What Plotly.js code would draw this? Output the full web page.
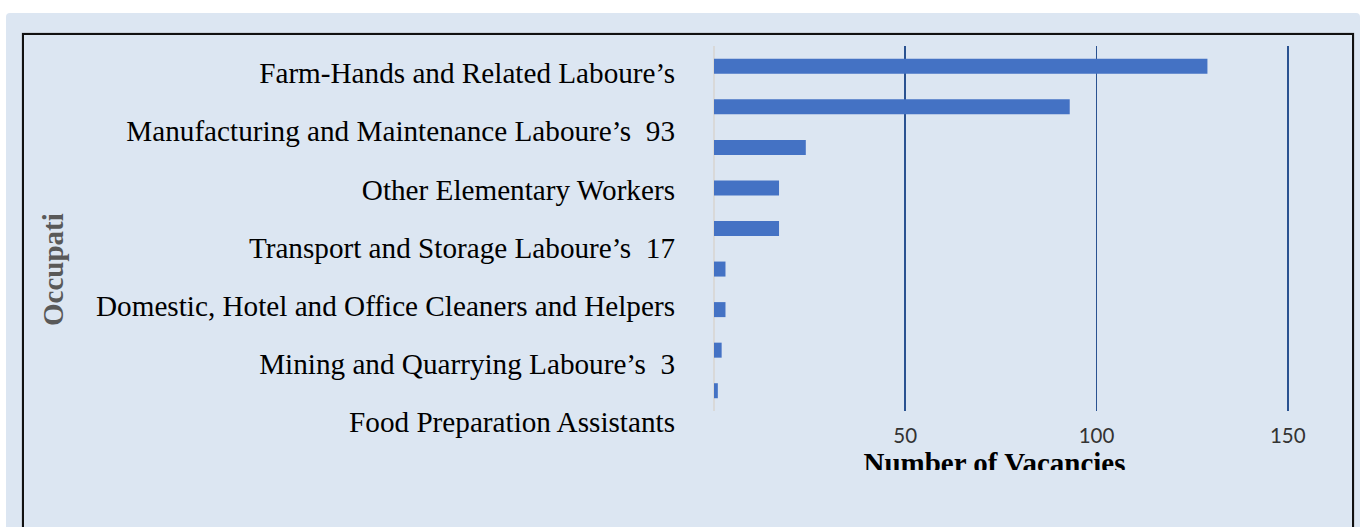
<!DOCTYPE html>
<html>
<head>
<meta charset="utf-8">
<script src="https://cdn.plot.ly/plotly-3.0.1.min.js"></script>
<style>
  html, body { margin: 0; padding: 0; width: 1360px; height: 527px; overflow: hidden; background: #ffffff; }
  #bg { position: absolute; left: 6px; top: 13px; width: 1354px; height: 520px; background: #dce6f2; border-radius: 4px; }
  #frame { position: absolute; left: 22px; top: 33px; width: 1332px; height: 600px; box-sizing: border-box; border: 2px solid #111; box-shadow: 0 0 1px #666; }
  #clip { position: absolute; left: 0; top: 0; width: 1360px; height: 470px; overflow: hidden; }
  #plot { width: 1360px; height: 527px; }
</style>
</head>
<body>
<div id="bg"></div>
<div id="frame"></div>
<div id="clip"><div id="plot"></div></div>
<script>
// Bar values, read top to bottom (number of vacancies)
const vacancies = [129, 93, 24, 17, 17, 3, 3, 2, 1];
// Category labels as they appear on the vertical axis
const tickLabels = [
  "Farm-Hands and Related Laboure\u2019s",
  "Manufacturing and Maintenance Laboure\u2019s \u00a093",
  "Other Elementary Workers",
  "Transport and Storage Laboure\u2019s \u00a017",
  "Domestic, Hotel and Office Cleaners and Helpers",
  "Mining and Quarrying Laboure\u2019s \u00a03",
  "Food Preparation Assistants"
];
const xTicks = [50, 100, 150];
const xTitle = "Number of Vacancies";
const yTitle = "Occupati";

const barSlots = vacancies.map((v, i) => i);
const labelSlots = tickLabels.map((t, i) => i);

const traces = [
  {
    type: "bar",
    orientation: "h",
    x: vacancies,
    y: barSlots,
    width: 0.37,
    marker: { color: "#4472c4" },
    hoverinfo: "x",
    xaxis: "x",
    yaxis: "y"
  },
  {
    type: "scatter",
    mode: "markers",
    x: labelSlots.map(() => null),
    y: labelSlots,
    marker: { opacity: 0 },
    hoverinfo: "skip",
    showlegend: false,
    xaxis: "x2",
    yaxis: "y2"
  }
];

const W = 1360, H = 527, L = 714, R = 34, T = 44, B = 76;
const plotW = W - L - R, plotH = H - T - B;
const barTop = 46, barBottom = 411;
const serif = "'Liberation Serif', 'Times New Roman', serif";

const layout = {
  width: W,
  height: H,
  paper_bgcolor: "rgba(0,0,0,0)",
  plot_bgcolor: "rgba(0,0,0,0)",
  margin: { l: L, r: R, t: T, b: B, pad: 0 },
  showlegend: false,
  xaxis: {
    range: [0, 160],
    tickvals: xTicks,
    ticktext: xTicks.map(String),
    showgrid: true,
    gridcolor: "#2a5291",
    gridwidth: 1.8,
    zeroline: true,
    zerolinecolor: "#d9d9d9",
    zerolinewidth: 2,
    showline: false,
    ticks: "",
    tickfont: { family: "Lato, 'Liberation Sans', sans-serif", size: 20.5, color: "#333333" },
    ticklabelstandoff: 10,
    fixedrange: true
  },
  yaxis: {
    domain: [(H - B - barBottom) / plotH, (H - B - barTop) / plotH],
    range: [vacancies.length - 0.5, -0.5],
    showticklabels: false,
    showgrid: false,
    zeroline: false,
    showline: false,
    ticks: "",
    fixedrange: true
  },
  xaxis2: {
    anchor: "y2",
    domain: [0, (994.5 - L) * 2 / plotW],
    range: [0, 1],
    showticklabels: false,
    showgrid: false,
    zeroline: false,
    showline: false,
    ticks: "",
    title: {
      text: xTitle,
      font: { family: serif, size: 29, color: "#000000", weight: "bold" },
      standoff: 1
    },
    fixedrange: true
  },
  yaxis2: {
    anchor: "x2",
    domain: [0, 1],
    range: [tickLabels.length - 0.5, -0.5],
    tickvals: labelSlots,
    ticktext: tickLabels,
    showgrid: false,
    zeroline: false,
    showline: false,
    ticks: "",
    ticklabelstandoff: 38,
    tickfont: { family: serif, size: 29.2, color: "#000000" },
    fixedrange: true
  },
  annotations: [
    {
      text: yTitle,
      textangle: -90,
      xref: "paper",
      yref: "paper",
      x: (53 - L) / plotW,
      y: (H - B - 270) / plotH,
      xanchor: "center",
      yanchor: "middle",
      showarrow: false,
      font: { family: serif, size: 29, color: "#595959", weight: "bold" }
    }
  ]
};

Plotly.newPlot("plot", traces, layout, { displayModeBar: false, staticPlot: true });
</script>
</body>
</html>
